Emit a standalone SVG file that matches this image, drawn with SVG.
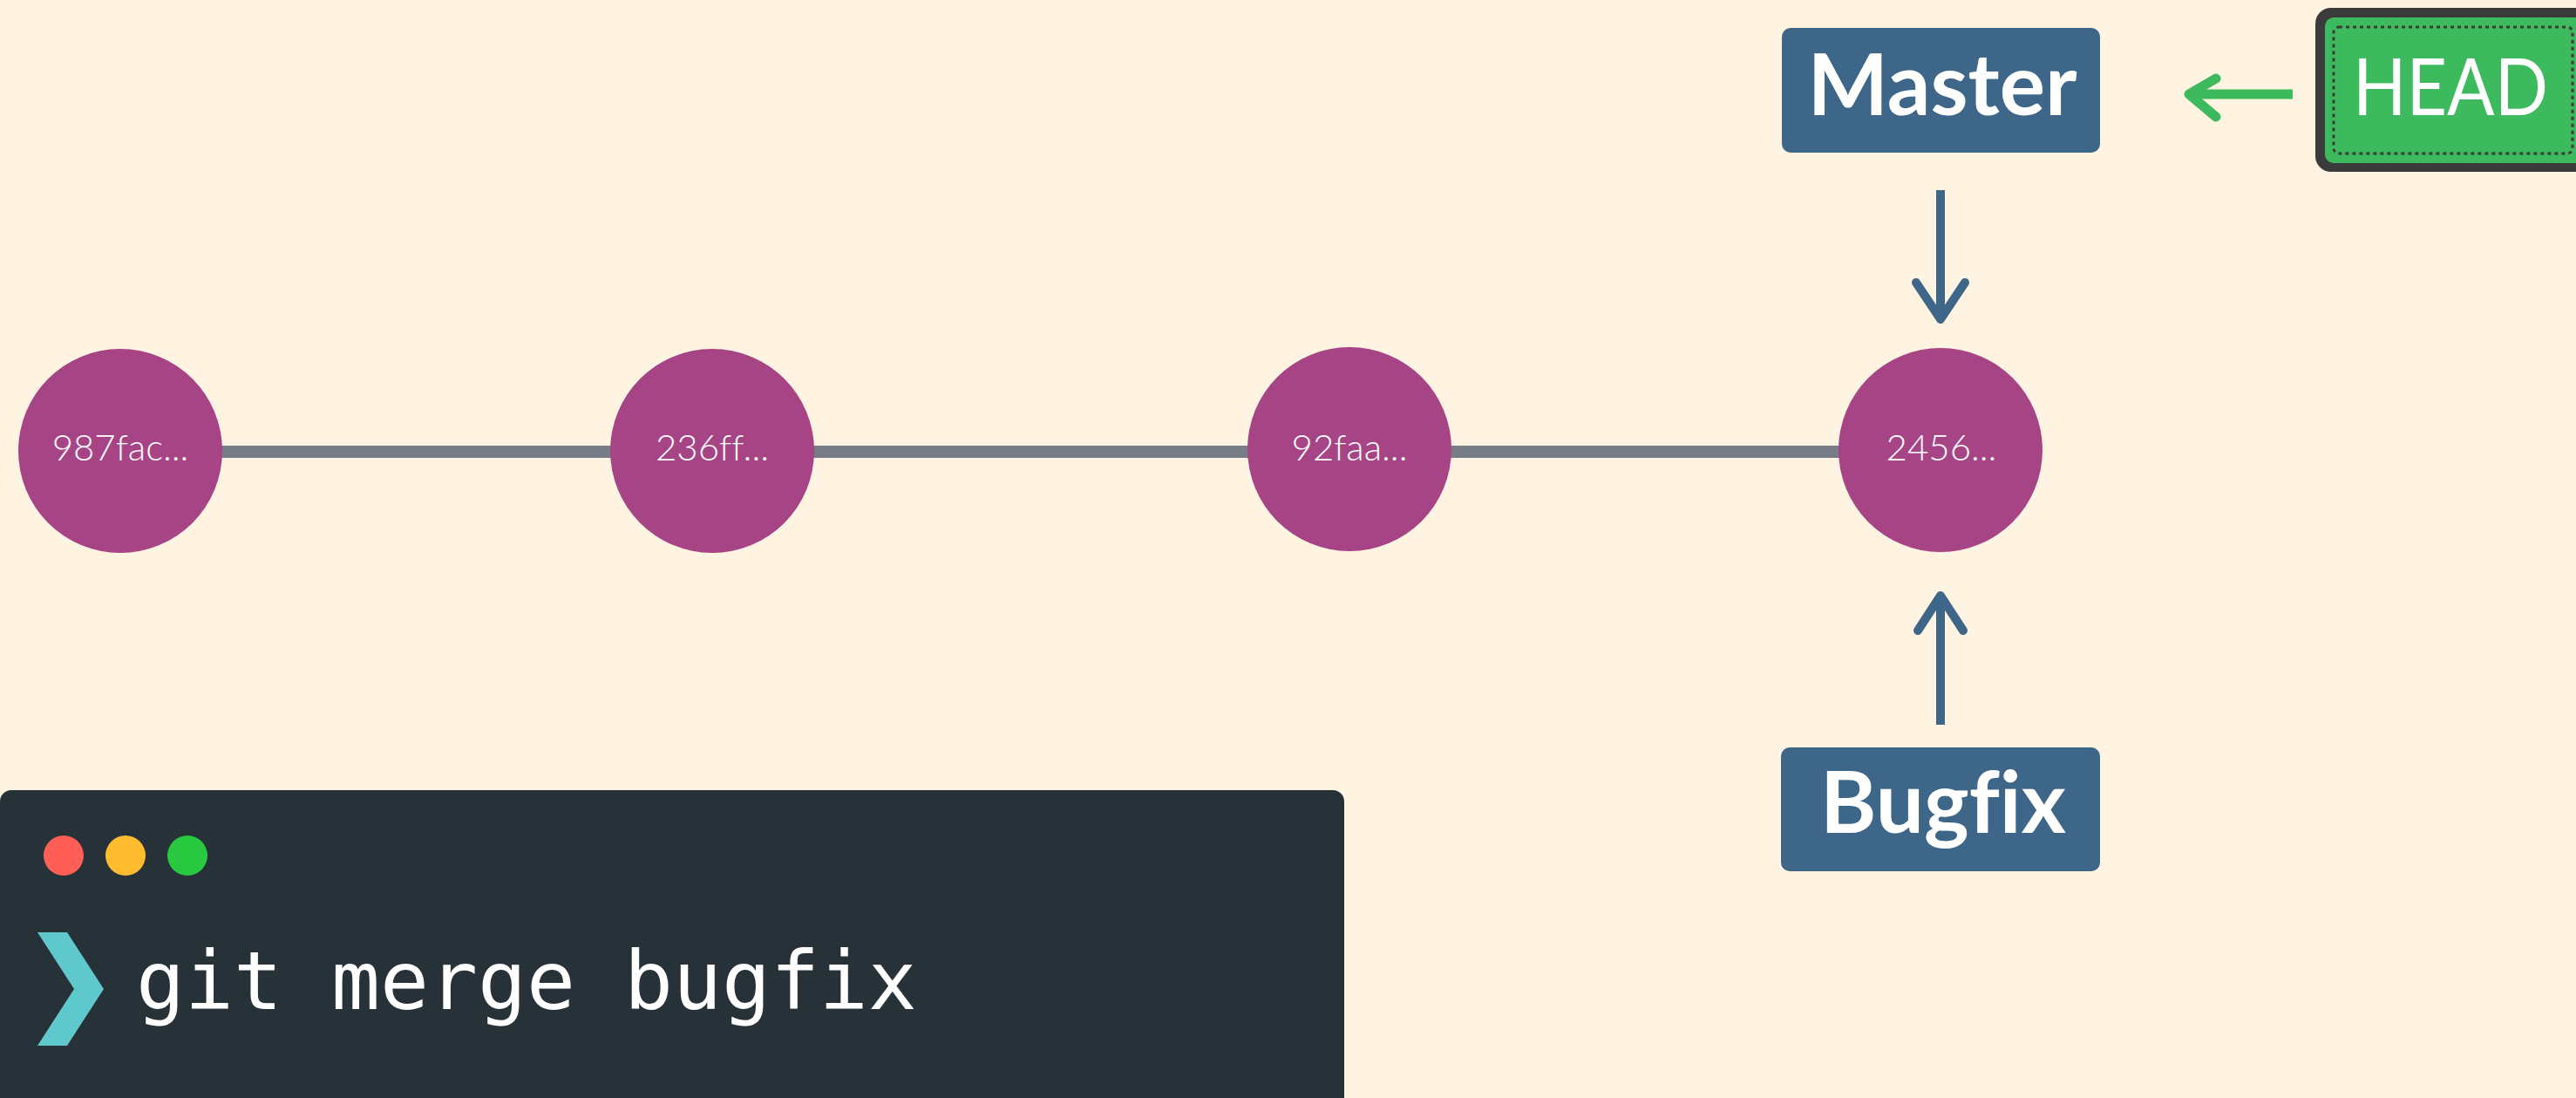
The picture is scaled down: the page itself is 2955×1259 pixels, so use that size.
<svg xmlns="http://www.w3.org/2000/svg" width="2955" height="1259" viewBox="0 0 2955 1259">
  <style>
    text { font-variant-ligatures: none; font-feature-settings: "liga" 0; }
    .commit { fill: #a74485; }
    .hash { fill: #ffffff; font-family: Lato, "Liberation Sans", sans-serif; font-weight: 300; font-size: 42px; text-anchor: middle; }
    .branch { fill: #3d6689; }
    .branch-label { fill: #ffffff; font-family: Lato, "Liberation Sans", sans-serif; font-weight: 700; font-size: 98px; text-anchor: middle; }
    .ptr { fill: none; stroke: #3d6689; stroke-width: 10; stroke-linecap: round; stroke-linejoin: round; }
    .ptr-line { fill: none; stroke: #3d6689; stroke-width: 10; }
    .head-ptr { fill: none; stroke: #3dba5d; stroke-width: 11; stroke-linecap: round; stroke-linejoin: round; }
    .edge { stroke: #787c87; stroke-width: 14; }
  </style>
  <rect x="0" y="0" width="2955" height="1259" fill="#fff3e1"/>

  <g id="connectors">
    <line class="edge" x1="138" y1="518" x2="2226" y2="518"/>
    <!-- Master -> 2456 -->
    <line class="ptr-line" x1="2226" y1="218" x2="2226" y2="362"/>
    <polyline class="ptr" points="2198,324 2226,366 2254,324"/>
    <!-- Bugfix -> 2456 -->
    <line class="ptr-line" x1="2226" y1="831" x2="2226" y2="686"/>
    <polyline class="ptr" points="2200,723 2226,683 2252,723"/>
    <!-- HEAD -> Master -->
    <line class="head-ptr" x1="2630" y1="108" x2="2512" y2="108" style="stroke-linecap:butt"/>
    <polyline class="head-ptr" points="2542,90 2511,108 2542,134"/>
  </g>

  <g id="commit-987fac">
    <circle class="commit" cx="138" cy="517" r="117"/>
    <text class="hash" x="138" y="528">987fac...</text>
  </g>
  <g id="commit-236ff">
    <circle class="commit" cx="817" cy="517" r="117"/>
    <text class="hash" x="817" y="528">236ff...</text>
  </g>
  <g id="commit-92faa">
    <circle class="commit" cx="1548" cy="515" r="117"/>
    <text class="hash" x="1548" y="528">92faa...</text>
  </g>
  <g id="commit-2456">
    <circle class="commit" cx="2226" cy="516" r="117"/>
    <text class="hash" x="2227" y="528">2456...</text>
  </g>

  <g id="branch-master">
    <rect class="branch" x="2044" y="32" width="365" height="143" rx="10"/>
    <text class="branch-label" x="2228" y="132">Master</text>
  </g>
  <g id="branch-bugfix">
    <rect class="branch" x="2043" y="857" width="366" height="142" rx="10"/>
    <text class="branch-label" x="2229" y="955">Bugfix</text>
  </g>

  <g id="head">
    <rect x="2656" y="9" width="320" height="188" rx="18" fill="#3b3b3b"/>
    <rect x="2667" y="20" width="300" height="167" rx="10" fill="#3dba5d"/>
    <rect x="2677" y="31" width="274" height="145" rx="6" fill="none" stroke="#3b3b3b" stroke-width="3" stroke-dasharray="4 4"/>
    <text x="2811" y="132" fill="#ffffff" font-family="Lato, 'Liberation Sans', sans-serif" font-weight="400" font-size="92" text-anchor="middle" textLength="224" lengthAdjust="spacingAndGlyphs">HEAD</text>
  </g>

  <g id="terminal">
    <rect x="0" y="906" width="1542" height="380" rx="13" fill="#263238"/>
    <circle cx="73" cy="981" r="23" fill="#ff5f57"/>
    <circle cx="144" cy="981" r="23" fill="#febc2e"/>
    <circle cx="215" cy="981" r="23" fill="#28c840"/>
    <polygon points="43,1069 77,1069 119,1134 77,1199 43,1199 85,1134" fill="#5ec8cd"/>
    <text x="156" y="1157" fill="#ffffff" font-family="'DejaVu Sans Mono', 'Liberation Mono', monospace" font-size="93">git merge bugfix</text>
  </g>
</svg>
